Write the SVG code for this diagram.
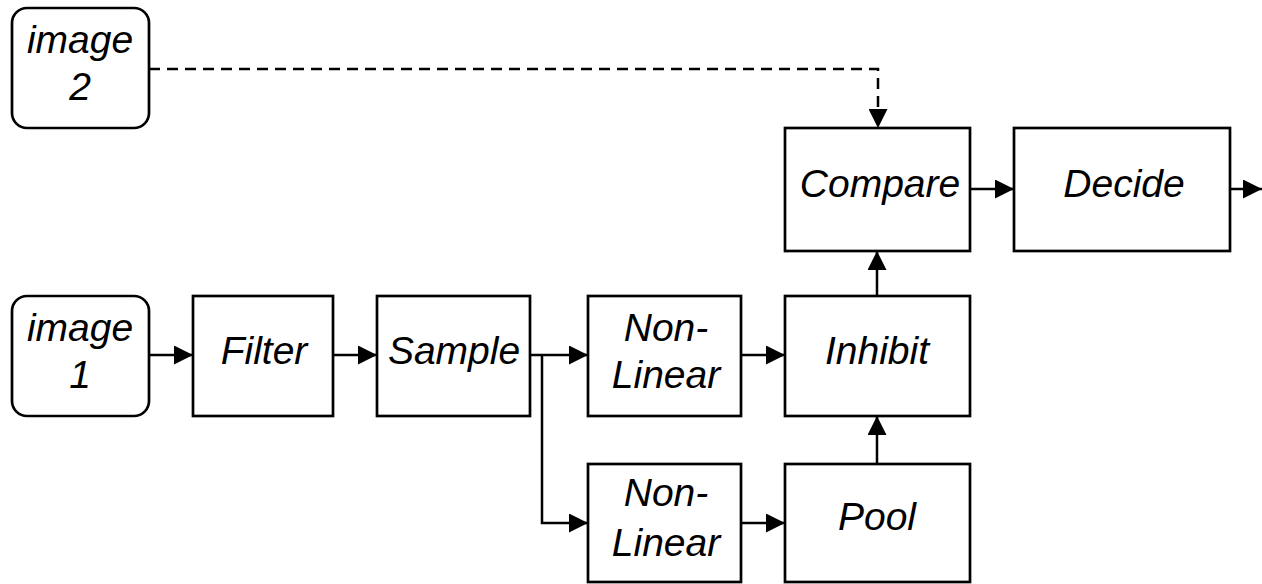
<svg xmlns="http://www.w3.org/2000/svg" width="1262" height="584" viewBox="0 0 1262 584">
<style>
.box{fill:#fff;stroke:#000;stroke-width:2.7}
.t{font-family:"Liberation Sans",Arial,sans-serif;font-style:italic;font-size:39px;fill:#000;text-anchor:middle}
.c{fill:none;stroke:#000;stroke-width:2.5}
.d{stroke-dasharray:11,7}
</style>
<defs>
<marker id="ah" markerUnits="userSpaceOnUse" markerWidth="19" markerHeight="19" refX="19" refY="9.5" orient="auto">
<path d="M0,0 L19,9.5 L0,19 Z" fill="#000"/>
</marker>
</defs>
<g id="connectors">
<path class="c d" d="M149,69 H878 V128" marker-end="url(#ah)"/>
<path class="c" d="M149,355 H193" marker-end="url(#ah)"/>
<path class="c" d="M333,355 H377" marker-end="url(#ah)"/>
<path class="c" d="M530,355 H588" marker-end="url(#ah)"/>
<path class="c" d="M542,355 V523 H588" marker-end="url(#ah)"/>
<path class="c" d="M741,355 H785" marker-end="url(#ah)"/>
<path class="c" d="M741,523 H785" marker-end="url(#ah)"/>
<path class="c" d="M877,464 V416" marker-end="url(#ah)"/>
<path class="c" d="M877,296 V251" marker-end="url(#ah)"/>
<path class="c" d="M970,189 H1014" marker-end="url(#ah)"/>
<path class="c" d="M1230,189 H1262" marker-end="url(#ah)"/>
</g>
<g id="image2"><rect class="box" x="12" y="8" width="137" height="120" rx="15"/><text class="t" x="80" y="53">image</text><text class="t" x="80" y="100">2</text></g>
<g id="image1"><rect class="box" x="12" y="296" width="137" height="120" rx="15"/><text class="t" x="80" y="341">image</text><text class="t" x="80" y="388">1</text></g>
<g id="filter"><rect class="box" x="193" y="296" width="140" height="120"/><text class="t" x="264" y="364">Filter</text></g>
<g id="sample"><rect class="box" x="377" y="296" width="153" height="120"/><text class="t" x="454" y="364">Sample</text></g>
<g id="nonlinear1"><rect class="box" x="588" y="296" width="153" height="120"/><text class="t" x="666" y="341">Non-</text><text class="t" x="666" y="388">Linear</text></g>
<g id="nonlinear2"><rect class="box" x="588" y="464" width="153" height="118"/><text class="t" x="666" y="506">Non-</text><text class="t" x="666" y="556">Linear</text></g>
<g id="inhibit"><rect class="box" x="785" y="296" width="185" height="120"/><text class="t" x="877" y="364">Inhibit</text></g>
<g id="pool"><rect class="box" x="785" y="464" width="185" height="118"/><text class="t" x="877" y="530">Pool</text></g>
<g id="compare"><rect class="box" x="785" y="128" width="185" height="123"/><text class="t" x="880" y="197">Compare</text></g>
<g id="decide"><rect class="box" x="1014" y="128" width="216" height="123"/><text class="t" x="1124" y="197">Decide</text></g>
</svg>
